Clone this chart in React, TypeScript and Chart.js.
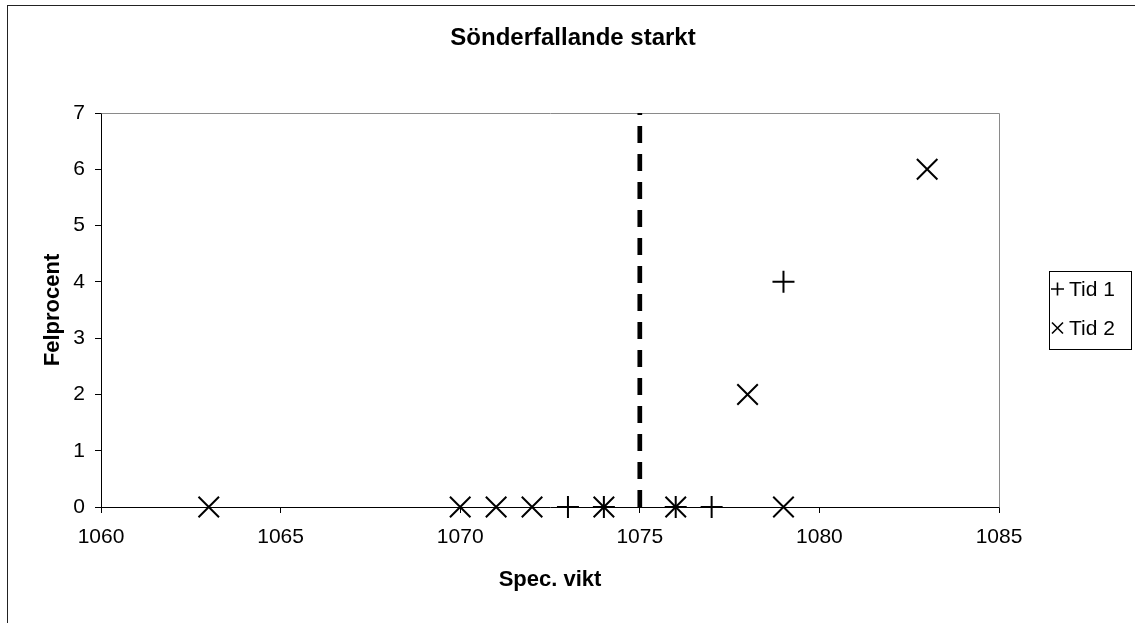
import React, { useEffect, useRef } from "react";
import { Chart, registerables } from "chart.js";

Chart.register(...registerables);

// Chart text
const TITLE = "Sönderfallande starkt";
const X_TITLE = "Spec. vikt";
const Y_TITLE = "Felprocent";

// Axis ranges
const X_MIN = 1060;
const X_MAX = 1085;
const X_STEP = 5;
const Y_MIN = 0;
const Y_MAX = 7;
const Y_STEP = 1;

// Series "Tid 1" (plus markers)
const TID1_LABEL = "Tid 1";
const TID1_X = [1073, 1074, 1076, 1077, 1079];
const TID1_Y = [0, 0, 0, 0, 4];

// Series "Tid 2" (cross markers)
const TID2_LABEL = "Tid 2";
const TID2_X = [1063, 1070, 1071, 1072, 1074, 1076, 1078, 1079, 1083];
const TID2_Y = [0, 0, 0, 0, 0, 0, 2, 0, 6];

// Vertical dashed reference line
const LIMIT_X = 1075;

const FONT = "'Liberation Sans', Arial, Helvetica, sans-serif";
const W = 1135;
const H = 623;

const toPoints = (xs: number[], ys: number[]) => xs.map((x, i) => ({ x, y: ys[i] }));

// Frame, title, top/right plot edges and the boxed legend
const decorations = {
  id: "decorations",
  beforeDraw(chart: any) {
    const { ctx } = chart;
    ctx.save();
    ctx.fillStyle = "#fff";
    ctx.fillRect(0, 0, chart.width, chart.height);
    ctx.strokeStyle = "#222";
    ctx.lineWidth = 1;
    ctx.strokeRect(7.5, 5.5, chart.width + 10, chart.height + 10);
    ctx.restore();
  },
  beforeDatasetsDraw(chart: any) {
    const { ctx, chartArea: a } = chart;
    ctx.save();
    ctx.strokeStyle = "#8a8a8a";
    ctx.lineWidth = 1;
    ctx.beginPath();
    ctx.moveTo(Math.round(a.left) + 0.5, Math.round(a.top) + 0.5);
    ctx.lineTo(Math.round(a.right) + 0.5, Math.round(a.top) + 0.5);
    ctx.lineTo(Math.round(a.right) + 0.5, Math.round(a.bottom) + 0.5);
    ctx.stroke();
    ctx.restore();
  },
  afterDraw(chart: any) {
    const { ctx } = chart;
    ctx.save();
    // title
    ctx.fillStyle = "#000";
    ctx.font = `bold 24px ${FONT}`;
    ctx.textAlign = "center";
    ctx.textBaseline = "middle";
    ctx.fillText(TITLE, 573, 38);

    // legend box
    const bx = 1049, by = 271, bw = 82, bh = 78;
    ctx.strokeStyle = "#000";
    ctx.lineWidth = 1;
    ctx.strokeRect(bx + 0.5, by + 0.5, bw, bh);
    const items = chart.data.datasets.filter((d: any) => d.legend);
    items.forEach((d: any, i: number) => {
      const cy = 289 + i * 39;
      const cx = 1057.5;
      ctx.beginPath();
      ctx.lineWidth = 1.6;
      if (d.pointStyle === "cross") {
        ctx.moveTo(cx - 6.5, cy);
        ctx.lineTo(cx + 6.5, cy);
        ctx.moveTo(cx, cy - 6.5);
        ctx.lineTo(cx, cy + 6.5);
      } else {
        ctx.moveTo(cx - 5.5, cy - 5.5);
        ctx.lineTo(cx + 5.5, cy + 5.5);
        ctx.moveTo(cx + 5.5, cy - 5.5);
        ctx.lineTo(cx - 5.5, cy + 5.5);
      }
      ctx.stroke();
      ctx.font = `21px ${FONT}`;
      ctx.textAlign = "left";
      ctx.fillText(d.label, 1069, cy + 1);
    });
    ctx.restore();
  },
};

export default function App() {
  const ref = useRef<HTMLCanvasElement | null>(null);

  useEffect(() => {
    if (!ref.current) return;
    const chart = new Chart(ref.current, {
      type: "scatter",
      data: {
        datasets: [
          {
            label: "limit",
            data: [
              { x: LIMIT_X, y: Y_MIN },
              { x: LIMIT_X, y: Y_MAX },
            ],
            showLine: true,
            borderColor: "#000",
            borderWidth: 4.7,
            borderDash: [17, 11],
            borderCapStyle: "butt",
            pointRadius: 0,
            clip: false,
          } as any,
          {
            label: TID1_LABEL,
            legend: true,
            data: toPoints(TID1_X, TID1_Y),
            pointStyle: "cross",
            pointRadius: 11,
            pointBorderWidth: 2,
            borderColor: "#000",
            backgroundColor: "#000",
            clip: false,
          } as any,
          {
            label: TID2_LABEL,
            legend: true,
            data: toPoints(TID2_X, TID2_Y),
            pointStyle: "crossRot",
            pointRadius: 14.5,
            pointBorderWidth: 2,
            borderColor: "#000",
            backgroundColor: "#000",
            clip: false,
          } as any,
        ],
      },
      options: {
        responsive: false,
        animation: false,
        events: [],
        layout: { padding: { left: 0, top: 113, right: 136, bottom: 0 } },
        plugins: {
          legend: { display: false },
          title: { display: false },
          tooltip: { enabled: false },
        },
        scales: {
          x: {
            type: "linear",
            min: X_MIN,
            max: X_MAX,
            afterFit: (s: any) => {
              s.height = H - 507;
            },
            ticks: {
              stepSize: X_STEP,
              color: "#000",
              padding: 12,
              font: { family: FONT, size: 21 },
              maxRotation: 0,
              callback: (v: any) => String(v),
            },
            grid: {
              drawOnChartArea: false,
              drawTicks: true,
              tickLength: 6,
              color: "#000",
            },
            border: { color: "#000", width: 1 },
            title: {
              display: true,
              text: X_TITLE,
              color: "#000",
              font: { family: FONT, size: 22, weight: "bold" },
              padding: { top: 0, bottom: 30 },
            },
          },
          y: {
            type: "linear",
            min: Y_MIN,
            max: Y_MAX,
            afterFit: (s: any) => {
              s.width = 101;
            },
            ticks: {
              stepSize: Y_STEP,
              color: "#000",
              padding: 10,
              font: { family: FONT, size: 21 },
              callback: (v: any) => String(v),
            },
            grid: {
              drawOnChartArea: false,
              drawTicks: true,
              tickLength: 6,
              color: "#000",
            },
            border: { color: "#000", width: 1 },
            title: {
              display: true,
              text: Y_TITLE,
              color: "#000",
              font: { family: FONT, size: 22, weight: "bold" },
              padding: { top: 40, bottom: 0 },
            },
          },
        },
      },
      plugins: [decorations],
    } as any);
    return () => chart.destroy();
  }, []);

  return (
    <div style={{ position: "absolute", left: 0, top: 0, width: W, height: H, background: "#fff" }}>
      <canvas ref={ref} width={W} height={H} style={{ display: "block", width: W, height: H }} />
    </div>
  );
}
